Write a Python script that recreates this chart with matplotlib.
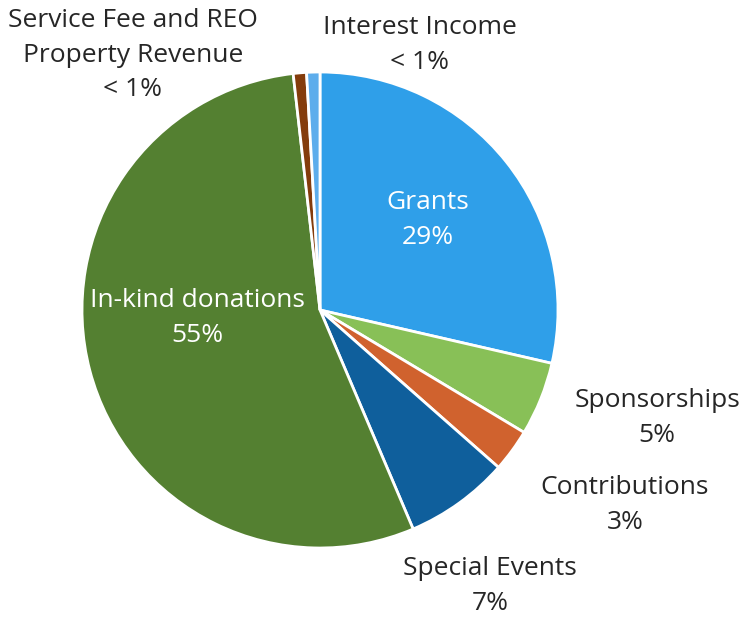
import matplotlib.pyplot as plt

# Revenue shares (%), clockwise from 12 o'clock
categories = ["Grants", "Sponsorships", "Contributions", "Special Events",
              "In-kind donations", "Service Fee and REO\nProperty Revenue",
              "Interest Income"]
shares = [28.6, 5.0, 2.9, 7.1, 54.6, 0.9, 0.9]
pct_labels = ["29%", "5%", "3%", "7%", "55%", "< 1%", "< 1%"]

colors = ["#2F9FE9", "#88C057", "#D0622E", "#0F5F9C",
          "#548031", "#843C0C", "#5DADEC"]

plt.rcParams['font.family'] = ['Open Sans', 'DejaVu Sans']

fig = plt.figure(figsize=(7.41, 6.18), dpi=100)
ax = fig.add_axes([0, 0, 1, 1])

ax.pie(shares, colors=colors, startangle=90, counterclock=False,
       radius=1.0, wedgeprops=dict(edgecolor="white", linewidth=2))

# label anchor positions (data coords, pie radius = 1)
label_pos = [(0.454, 0.378), (1.416, -0.454), (1.281, -0.819), (0.714, -1.160),
             (-0.517, -0.034), (-0.786, 1.071), (0.42, 1.113)]
label_color = ["white", "#262626", "#262626", "#262626", "white", "#262626", "#262626"]

for name, pct, (x, y), c in zip(categories, pct_labels, label_pos, label_color):
    ax.text(x, y, name + "\n" + pct, ha="center", va="center",
            fontsize=19, color=c, linespacing=1.5)

ax.set_xlim(-320 / 238, (741 - 320) / 238)
ax.set_ylim(-(618 - 310) / 238, 310 / 238)
ax.set_aspect("auto")
ax.axis("off")

fig.savefig("out.png", dpi=100)
